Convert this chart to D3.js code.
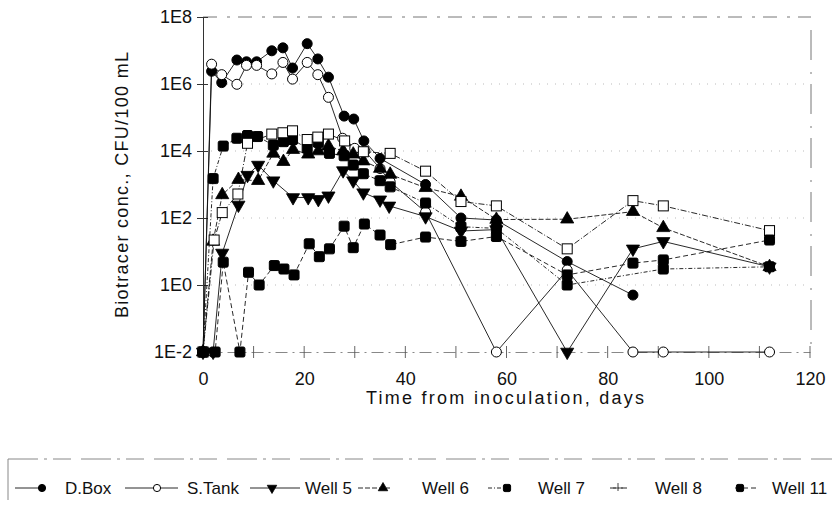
<!DOCTYPE html>
<html>
<head>
<meta charset="utf-8">
<script src="https://cdn.jsdelivr.net/npm/d3@7"></script>
<style>
  body { margin: 0; background: #fff; }
  svg { font-family: "Liberation Sans", Arial, sans-serif; }
</style>
</head>
<body>
<div id="chart"></div>
<script>
// values; 1E-2 = not detected
const dboxDays = [0, 1.7, 3.7, 6.7, 8.6, 10.6, 13.6, 15.8, 17.7, 20.6, 22.7, 24.8, 27.9, 29.8, 31.8, 35, 44, 51, 58, 72, 85];
const dboxVals = [0.01, 2.4e6, 1.1e6, 5.2e6, 4.6e6, 4.6e6, 9.8e6, 1.2e7, 3e6, 1.6e7, 5.6e6, 1.6e6, 1.1e5, 9e4, 2e4, 6e3, 1e3, 100, 87, 5, 0.5];

const stankDays = [0, 1.7, 3.7, 6.7, 8.6, 10.6, 13.6, 15.8, 17.7, 20.6, 22.7, 24.8, 27.6, 30, 32, 35, 37, 44, 58, 72, 85, 91, 112];
const stankVals = [0.01, 3.9e6, 1.9e6, 9.8e5, 3.6e6, 3.6e6, 2e6, 4.4e6, 1.4e6, 4.4e6, 1.9e6, 4e5, 2.4e4, 1.2e4, 1e4, 3e3, 1.2e3, 150, 0.01, 2.8, 0.01, 0.01, 0.01];

const well5Days = [0, 2, 3.8, 7, 8.8, 10.9, 13.9, 17.8, 20.8, 22.8, 24.8, 27.7, 29.7, 31.7, 35, 36.8, 44, 51, 58, 72, 85, 91, 112];
const well5Vals = [0.01, 0.01, 9, 245, 1.9e3, 3.8e3, 1.3e3, 410, 410, 360, 460, 2.6e3, 1.3e3, 570, 350, 230, 110, 41, 45, 0.01, 12, 20, 3.5];

const well6Days = [0, 2, 3.8, 7, 10.9, 13.9, 15.9, 17.8, 20.8, 22.8, 24.8, 27.7, 29.7, 31.7, 35, 37, 44, 51, 58, 72, 85, 91, 112];
const well6Vals = [0.01, 20, 490, 1.4e3, 1.3e3, 8.5e3, 4.8e3, 1.1e4, 8e3, 1e4, 1.4e4, 1e4, 8e3, 5e3, 3e3, 2e3, 800, 440, 90, 92, 155, 51, 3.5];

const well7Days = [0, 2, 4, 6.7, 8.8, 10.8, 13.9, 15.9, 17.7, 20.6, 22.8, 25, 27.9, 29.7, 31.7, 35, 37, 44, 51, 58, 72, 91, 112];
const well7Vals = [0.01, 1.5e3, 1.4e4, 2.4e4, 2.9e4, 2.7e4, 1.5e4, 1.9e4, 2.2e4, 1.2e4, 1.8e4, 8.5e3, 7.2e3, 3.8e3, 2.1e3, 1.3e3, 850, 280, 55, 49, 1, 3, 3.5];

const well8Days = [0, 2.2, 3.8, 6.9, 8.8, 13.6, 15.8, 17.7, 20.6, 22.7, 24.8, 28, 31.7, 37, 44, 51, 58, 72, 85, 91, 112];
const well8Vals = [0.01, 22, 145, 520, 1.7e4, 3.2e4, 3.5e4, 4e4, 2.2e4, 2.6e4, 3.2e4, 2e4, 9.5e3, 8.5e3, 2.5e3, 310, 230, 12, 330, 230, 42];

const well11Days = [0, 2.4, 4, 7.3, 9, 11.1, 14.1, 16, 18, 21, 23, 25, 27.9, 29.7, 31.9, 35, 37.1, 44, 51, 58, 72, 85, 91, 112];
const well11Vals = [0.01, 0.01, 4.8, 0.01, 2.4, 1, 3.8, 3, 2, 17, 7, 12, 57, 13, 66, 31, 16, 27, 20, 28, 2, 4.5, 5.6, 22];

const seriesNames = ["D.Box", "S.Tank", "Well 5", "Well 6", "Well 7", "Well 8", "Well 11"];
const yTickVals = [1e-2, 1, 1e2, 1e4, 1e6, 1e8];
const yTickLabels = ["1E-2", "1E0", "1E2", "1E4", "1E6", "1E8"];
const xTickVals = [0, 20, 40, 60, 80, 100, 120];

const series = [
  { name: "D.Box", days: dboxDays, vals: dboxVals, sym: "circle", fill: "#000", dash: null },
  { name: "S.Tank", days: stankDays, vals: stankVals, sym: "circle", fill: "#fff", dash: null },
  { name: "Well 5", days: well5Days, vals: well5Vals, sym: "down", fill: "#000", dash: null },
  { name: "Well 6", days: well6Days, vals: well6Vals, sym: "up", fill: "#000", dash: "5,2" },
  { name: "Well 7", days: well7Days, vals: well7Vals, sym: "square", fill: "#000", dash: "4,2,1,2" },
  { name: "Well 8", days: well8Days, vals: well8Vals, sym: "square", fill: "#fff", dash: "6,2,1,2" },
  { name: "Well 11", days: well11Days, vals: well11Vals, sym: "square", fill: "#000", dash: "5,3" }
];

const width = 835, height = 513;
const svg = d3.select("#chart").append("svg")
  .attr("width", width).attr("height", height);

const x = d3.scaleLinear().domain([0, 120]).range([203, 810]);
const y = d3.scaleLog().domain([1e-2, 1e8]).range([352, 17]);

// gridlines
svg.append("g").selectAll("line")
  .data(yTickVals.slice(1, 5))
  .enter().append("line")
  .attr("x1", 203).attr("x2", 810)
  .attr("y1", d => y(d)).attr("y2", d => y(d))
  .attr("stroke", "#aaa").attr("stroke-width", 0.8)
  .attr("stroke-dasharray", "1,7");

// frame top / right
svg.append("line").attr("x1", 203).attr("x2", 811).attr("y1", 17).attr("y2", 17)
  .attr("stroke", "#777").attr("stroke-dasharray", "14,10,3,8");
svg.append("line").attr("x1", 811).attr("x2", 811).attr("y1", 30).attr("y2", 346)
  .attr("stroke", "#777").attr("stroke-dasharray", "30,12,2,10");

// y axis
const yAxis = d3.axisLeft(y).tickValues(yTickVals)
  .tickFormat((d, i) => yTickLabels[i]).tickSize(6).tickSizeOuter(0);
const gy = svg.append("g").attr("transform", "translate(203,0)").call(yAxis);
gy.select(".domain").attr("stroke", "#333");
gy.selectAll(".tick line").attr("x2", 5).attr("x1", -6).attr("stroke", "#333");
gy.selectAll(".tick text").attr("x", -11).attr("font-size", 18)
  .attr("font-family", "Liberation Sans, Arial, sans-serif").attr("fill", "#111");

// x axis
const xAxis = d3.axisBottom(x).tickValues(xTickVals).tickSize(0).tickPadding(20);
const gx = svg.append("g").attr("transform", "translate(0,352)").call(xAxis);
gx.select(".domain").attr("stroke", "#888").attr("stroke-dasharray", "12,5,2,5");
gx.selectAll(".tick text").attr("font-size", 18)
  .attr("font-family", "Liberation Sans, Arial, sans-serif").attr("fill", "#111");
svg.append("g").selectAll("line")
  .data(d3.range(10, 130, 10))
  .enter().append("line")
  .attr("x1", d => x(d)).attr("x2", d => x(d))
  .attr("y1", 346).attr("y2", 358)
  .attr("stroke", "#555").attr("stroke-width", 0.9);

// axis titles
svg.append("text").attr("x", 505).attr("y", 404)
  .attr("text-anchor", "middle").attr("font-size", 18).attr("fill", "#111")
  .attr("textLength", 278).attr("lengthAdjust", "spacing")
  .text("Time from inoculation, days");
svg.append("text").attr("transform", "translate(128,185) rotate(-90)")
  .attr("text-anchor", "middle").attr("font-size", 18).attr("fill", "#111")
  .attr("textLength", 266).attr("lengthAdjust", "spacing")
  .text("Biotracer conc., CFU/100 mL");

function drawSymbol(g, sym, fill, cx, cy, r) {
  if (sym === "circle") {
    g.append("circle").attr("cx", cx).attr("cy", cy).attr("r", r)
      .attr("fill", fill).attr("stroke", "#000").attr("stroke-width", 1);
  } else if (sym === "square") {
    g.append("rect").attr("x", cx - r).attr("y", cy - r)
      .attr("width", 2 * r).attr("height", 2 * r).attr("rx", fill === "#000" ? 1.5 : 0)
      .attr("fill", fill).attr("stroke", "#000").attr("stroke-width", 1);
  } else {
    const s = sym === "up" ? -1 : 1;
    const tri = d3.symbol().type(d3.symbolTriangle).size(r * r * 3);
    g.append("path").attr("d", tri)
      .attr("transform", `translate(${cx},${cy}) scale(1,${-s})`)
      .attr("fill", fill).attr("stroke", "#000").attr("stroke-width", 0.8);
  }
}

const line = d3.line().x(d => x(d[0])).y(d => y(d[1]));

series.forEach(s => {
  const pts = s.days.map((d, i) => [d, s.vals[i]]);
  svg.append("path").datum(pts)
    .attr("d", line).attr("fill", "none")
    .attr("stroke", "#111").attr("stroke-width", 0.9)
    .attr("stroke-dasharray", s.dash);
});
series.forEach(s => {
  const g = svg.append("g");
  s.days.forEach((d, i) => drawSymbol(g, s.sym, s.fill, x(d), y(s.vals[i]), 5));
});

// legend
const leg = svg.append("g");
leg.append("line").attr("x1", 8).attr("x2", 832).attr("y1", 459).attr("y2", 459)
  .attr("stroke", "#888").attr("stroke-dasharray", "30,6,3,6,18,10");
leg.append("line").attr("x1", 8).attr("x2", 8).attr("y1", 459).attr("y2", 500)
  .attr("stroke", "#888");
const legSym = [42, 157, 272, 383, 507, 618, 740];
const legLine = [[15, 45], [125, 178], [250, 300], [358, 390], [488, 512], [610, 628], [735, 758]];
const legText = [65, 187, 305, 422, 538, 655, 772];
series.forEach((s, i) => {
  leg.append("line").attr("x1", legLine[i][0]).attr("x2", legLine[i][1])
    .attr("y1", 488).attr("y2", 488).attr("stroke", "#111").attr("stroke-width", 0.9)
    .attr("stroke-dasharray", s.dash);
  if (s.name === "Well 8") {
    leg.append("path").attr("d", `M${legSym[i] - 5},488 h10 M${legSym[i]},483 v8`)
      .attr("stroke", "#444").attr("fill", "none");
  } else {
    drawSymbol(leg, s.sym, s.fill, legSym[i], 488, 3.6);
  }
  leg.append("text").attr("x", legText[i]).attr("y", 494)
    .attr("font-size", 17).attr("fill", "#111").text(seriesNames[i]);
});
</script>
</body>
</html>
